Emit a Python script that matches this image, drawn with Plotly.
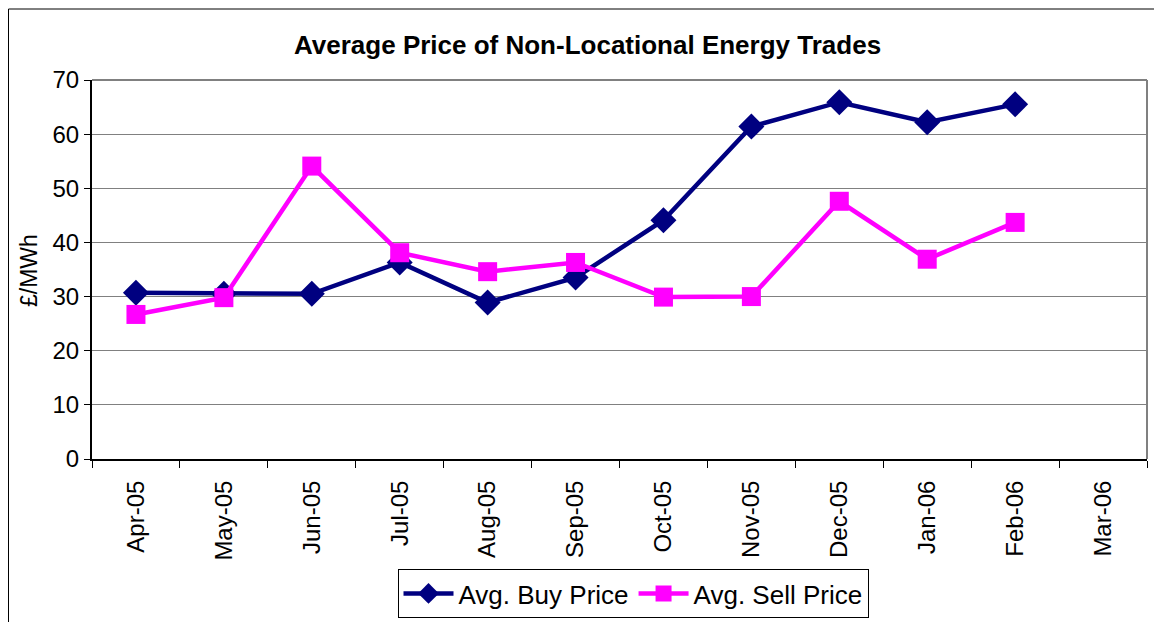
import plotly.graph_objects as go

months = ["Apr-05", "May-05", "Jun-05", "Jul-05", "Aug-05", "Sep-05",
          "Oct-05", "Nov-05", "Dec-05", "Jan-06", "Feb-06", "Mar-06"]
buy_price = [30.7, 30.5, 30.5, 36.3, 28.9, 33.5, 44.1, 61.4, 65.9, 62.2, 65.5, None]
sell_price = [26.7, 29.8, 54.1, 38.1, 34.6, 36.3, 29.9, 30.0, 47.6, 36.9, 43.7, None]

# page has an 8px body margin; figure drawn at (8, 8)
OFF = 8
W, H = 1162 - OFF, 622 - OFF
PL, PR, PT, PB = 92, 1147, 80, 459   # plot area in page pixels


def px(x):
    return (x - PL) / (PR - PL)


def py(y):
    return (PB - y) / (PB - PT)


fig = go.Figure()
fig.add_trace(go.Scatter(
    x=months, y=buy_price, name="Avg. Buy Price", mode="lines+markers",
    line=dict(color="#000080", width=4.5),
    marker=dict(symbol="diamond", size=20, color="#000080"),
))
fig.add_trace(go.Scatter(
    x=months, y=sell_price, name="Avg. Sell Price", mode="lines+markers",
    line=dict(color="#FF00FF", width=4.5),
    marker=dict(symbol="square", size=19, color="#FF00FF"),
))

fig.update_layout(
    width=W, height=H,
    margin=dict(l=PL - OFF, r=W - (PR - OFF), t=PT - OFF, b=H - (PB - OFF), autoexpand=False),
    paper_bgcolor="white", plot_bgcolor="white",
    font=dict(family="Arial, Liberation Sans, sans-serif", color="black"),
    showlegend=True,
    legend=dict(orientation="h", x=px(633), xanchor="center", y=py(569), yanchor="top",
                bordercolor="black", borderwidth=1, font=dict(size=26),
                itemwidth=50, tracegroupgap=0),
    annotations=[
        dict(text="<b>Average Price of Non-Locational Energy Trades</b>", x=px(587), y=py(45),
             xref="paper", yref="paper", showarrow=False, font=dict(size=26),
             xanchor="center", yanchor="middle"),
        dict(text="£/MWh", x=px(29), y=py(271), xref="paper", yref="paper", showarrow=False,
             textangle=-90, font=dict(size=23), xanchor="center", yanchor="middle"),
    ],
    shapes=[
        dict(type="rect", xref="paper", yref="paper", x0=px(8.5), x1=px(1175), y0=py(640), y1=py(9),
             line=dict(color="black", width=1)),
        dict(type="line", xref="paper", yref="paper", x0=1, x1=1, y0=0, y1=1,
             line=dict(color="#808080", width=2)),
        dict(type="line", xref="paper", yref="paper", x0=0, x1=1, y0=1, y1=1,
             line=dict(color="#808080", width=2)),
    ],
)

fig.update_xaxes(
    type="category", categoryorder="array", categoryarray=months,
    range=[-0.5, 11.5], tickangle=-90, tickfont=dict(size=24),
    showline=True, linecolor="black", linewidth=2,
    ticks="outside", tickson="boundaries", ticklen=7, tickcolor="black",
    ticklabelstandoff=10, automargin=False,
    showgrid=False, zeroline=False,
)
fig.update_yaxes(
    range=[0, 70], dtick=10, tickfont=dict(size=24),
    showline=True, linecolor="black", linewidth=2,
    ticks="outside", ticklen=6, tickcolor="black", automargin=False,
    showgrid=True, gridcolor="#808080", gridwidth=1, zeroline=False,
)

fig.write_html("out.html")
